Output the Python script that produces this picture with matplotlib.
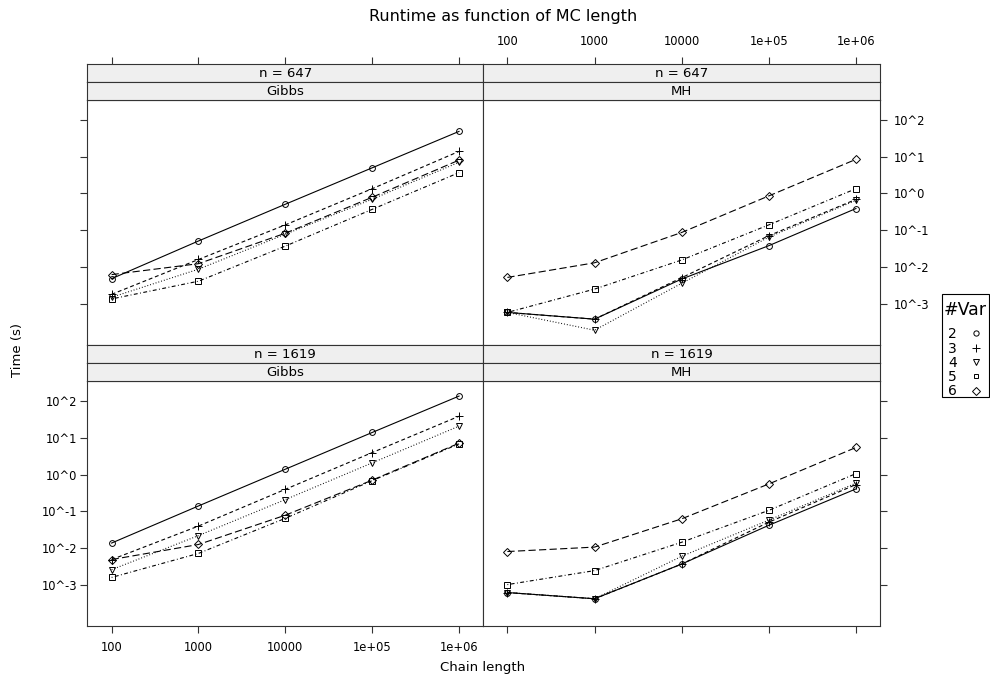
import matplotlib
matplotlib.use("Agg")
import matplotlib.pyplot as plt
from matplotlib.lines import Line2D
from matplotlib.patches import Rectangle

# ---------------- data ----------------
chain_length = [100, 1000, 10000, 100000, 1000000]
x_tick_labels = ["100", "1000", "10000", "1e+05", "1e+06"]
y_ticks = [1e-3, 1e-2, 1e-1, 1e0, 1e1, 1e2]
y_tick_labels = ["10^-3", "10^-2", "10^-1", "10^0", "10^1", "10^2"]
n_vars = ["2", "3", "4", "5", "6"]

# n = 647, Gibbs
gibbs_647 = {
    "2": [0.0048, 0.051, 0.51, 5.0, 49],
    "3": [0.0018, 0.016, 0.14, 1.35, 14],
    "4": [0.0015, 0.0087, 0.078, 0.70, 7.1],
    "5": [0.00135, 0.0041, 0.037, 0.37, 3.7],
    "6": [0.0062, 0.0123, 0.083, 0.79, 8.1],
}
# n = 647, MH
mh_647 = {
    "2": [0.00058, 0.00038, 0.0047, 0.038, 0.39],
    "3": [0.00058, 0.00038, 0.0051, 0.071, 0.69],
    "4": [0.00058, 0.00019, 0.0036, 0.065, 0.65],
    "5": [0.00058, 0.0025, 0.0155, 0.14, 1.35],
    "6": [0.0052, 0.013, 0.087, 0.86, 8.5],
}
# n = 1619, Gibbs
gibbs_1619 = {
    "2": [0.0138, 0.141, 1.41, 14.1, 138],
    "3": [0.0049, 0.040, 0.40, 4.0, 39],
    "4": [0.0026, 0.022, 0.21, 2.1, 21],
    "5": [0.0016, 0.0072, 0.065, 0.69, 6.9],
    "6": [0.0049, 0.0126, 0.079, 0.71, 7.2],
}
# n = 1619, MH
mh_1619 = {
    "2": [0.00062, 0.00042, 0.0037, 0.042, 0.41],
    "3": [0.00062, 0.00042, 0.0037, 0.051, 0.54],
    "4": [0.00062, 0.00042, 0.0060, 0.058, 0.59],
    "5": [0.00102, 0.00245, 0.0145, 0.107, 1.07],
    "6": [0.0081, 0.0107, 0.063, 0.56, 5.5],
}

# ---------------- styles ----------------
markers = {"2": "o", "3": "+", "4": "v", "5": "s", "6": "D"}
msizes = {"2": 4.2, "3": 6.0, "4": 4.8, "5": 3.8, "6": 4.0}
dashes = {
    "2": "-",
    "3": (0, (3.5, 2.5)),
    "4": (0, (0.8, 1.8)),
    "5": (0, (0.8, 2.2, 3.5, 2.2)),
    "6": (0, (6.5, 3.0)),
}

plt.rcParams["font.family"] = ["DejaVu Sans"]
W, H = 990, 681
fig = plt.figure(figsize=(W / 100, H / 100), dpi=100)


def rect(x0, y0, x1, y1):
    return [x0 / W, 1 - y1 / H, (x1 - x0) / W, (y1 - y0) / H]


EDGE = "#333333"
STRIP = "#efefef"
TICK_FS = 8.3
STRIP_FS = 9.5
XLIM = (10 ** 1.72, 10 ** 6.276)
YLIM = (10 ** -4.11, 10 ** 2.553)

cols = [(87.3, 483.0), (483.0, 880.0)]
rows = [
    dict(panel=(99.7, 344.5), s1=(63.5, 81.6), s2=(81.6, 99.7), n="n = 647"),
    dict(panel=(380.9, 625.7), s1=(344.5, 362.7), s2=(362.7, 380.9), n="n = 1619"),
]
data = {(0, 0): gibbs_647, (0, 1): mh_647, (1, 0): gibbs_1619, (1, 1): mh_1619}
methods = ["Gibbs", "MH"]


def style_spines(ax):
    for s in ax.spines.values():
        s.set_color(EDGE)
        s.set_linewidth(0.8)


for r, row in enumerate(rows):
    for c, (x0, x1) in enumerate(cols):
        ax = fig.add_axes(rect(x0, row["panel"][0], x1, row["panel"][1]))
        ax.set_xscale("log")
        ax.set_yscale("log")
        ax.set_xlim(*XLIM)
        ax.set_ylim(*YLIM)
        style_spines(ax)
        d = data[(r, c)]
        for v in n_vars:
            ax.plot(chain_length, d[v], color="black", lw=0.8,
                    linestyle=dashes[v], marker=markers[v],
                    markersize=msizes[v], mfc="none", mec="black", mew=0.7,
                    dash_capstyle="butt")
        ax.set_xticks(chain_length)
        ax.set_yticks(y_ticks)
        ax.minorticks_off()
        ax.tick_params(which="both", direction="out", length=5, width=0.8,
                       color=EDGE, labelsize=TICK_FS, pad=2)
        # y axis
        if c == 0:
            ax.yaxis.set_ticks_position("left")
            if r == 1:
                ax.set_yticklabels(y_tick_labels)
            else:
                ax.set_yticklabels([])
        else:
            ax.yaxis.set_ticks_position("right")
            ax.tick_params(axis="y", pad=5)
            if r == 0:
                ax.set_yticklabels(y_tick_labels)
            else:
                ax.set_yticklabels([])
        # x axis
        if r == 1:
            ax.xaxis.set_ticks_position("bottom")
            ax.tick_params(axis="x", pad=6)
            if c == 0:
                ax.set_xticklabels(x_tick_labels)
            else:
                ax.set_xticklabels([])
        else:
            ax.tick_params(axis="x", bottom=False, top=False,
                           labelbottom=False, labeltop=False)

        # strips
        for k, (sy, label) in enumerate([(row["s1"], row["n"]), (row["s2"], methods[c])]):
            sa = fig.add_axes(rect(x0, sy[0], x1, sy[1]))
            sa.set_facecolor(STRIP)
            style_spines(sa)
            sa.set_xscale("log")
            sa.set_xlim(*XLIM)
            sa.set_ylim(0, 1)
            sa.set_yticks([])
            sa.minorticks_off()
            sa.text(0.5, 0.45, label, transform=sa.transAxes, ha="center",
                    va="center", fontsize=STRIP_FS)
            if r == 0 and k == 0:
                sa.set_xticks(chain_length)
                sa.xaxis.set_ticks_position("top")
                sa.tick_params(axis="x", direction="out", length=5, width=0.8,
                               color=EDGE, labelsize=TICK_FS, pad=6)
                if c == 1:
                    sa.set_xticklabels(x_tick_labels)
                else:
                    sa.set_xticklabels([])
                sa.minorticks_off()
            else:
                sa.set_xticks([])
                sa.minorticks_off()

fig.text(503 / W, 1 - 17 / H, "Runtime as function of MC length",
         ha="center", va="center", fontsize=11.5)
fig.text(483 / W, 1 - 667 / H, "Chain length", ha="center", va="center",
         fontsize=9.5)
fig.text(18 / W, 1 - 350 / H, "Time (s)", ha="center", va="center",
         rotation=90, fontsize=9.5)

# legend frame
fig.patches.append(Rectangle((942 / W, 1 - 397 / H), (989 - 942) / W,
                             (397 - 294) / H, transform=fig.transFigure,
                             fill=False, edgecolor="black", linewidth=0.8))
handles = [Line2D([], [], linestyle="none", marker=markers[v], color="black",
                  mfc="none", mew=0.7, markersize=msizes[v] * 0.9) for v in n_vars]
leg = fig.legend(handles, n_vars, title="#Var", markerfirst=False,
                 loc="upper center", bbox_to_anchor=(965.5 / W, 1 - 301 / H),
                 frameon=False, fontsize=10, title_fontsize=12.5,
                 borderpad=0.0, labelspacing=0.02, handlelength=1.0,
                 handletextpad=0.9, borderaxespad=0.0)
leg._legend_box.align = "center"
leg._legend_box.sep = 6

fig.savefig("out.png", dpi=100, facecolor="white")
